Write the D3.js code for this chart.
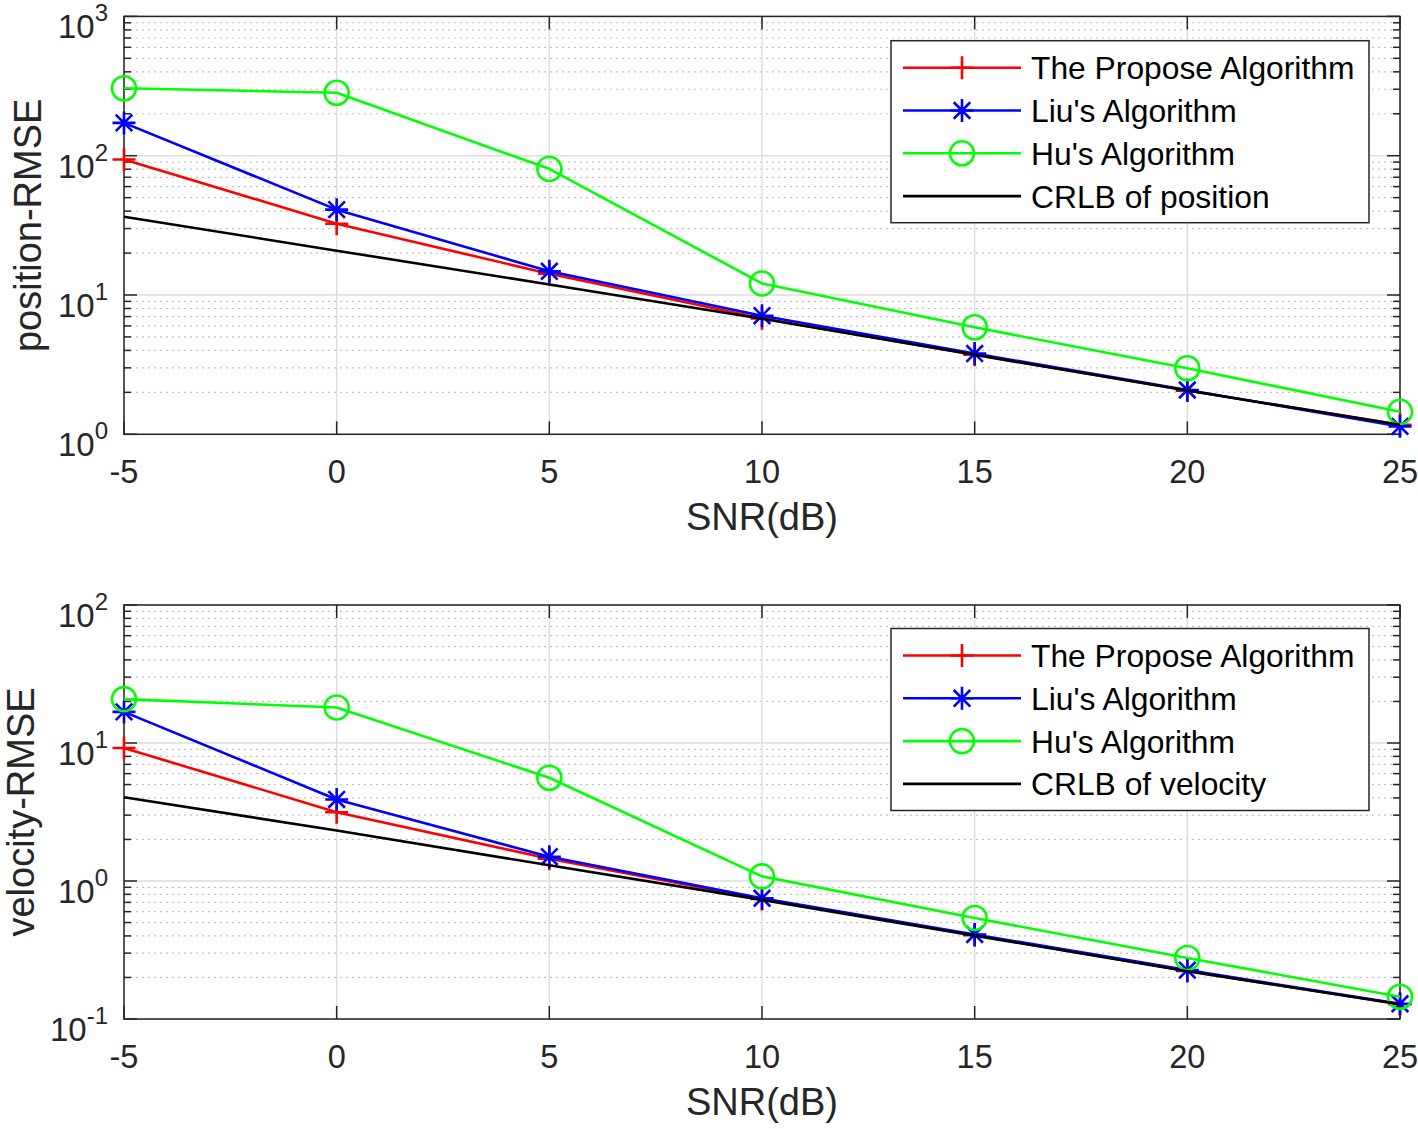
<!DOCTYPE html>
<html><head><meta charset="utf-8">
<script src="https://cdn.jsdelivr.net/npm/d3@7"></script>
<style>body{margin:0;background:#fff;} svg{display:block;font-family:"Liberation Sans",Arial,Helvetica,sans-serif;}</style>
</head><body>
<svg id="c" width="1418" height="1129"></svg>
<script>
const snr = [-5, 0, 5, 10, 15, 20, 25];
const xTicks = [-5, 0, 5, 10, 15, 20, 25];

const posPropose = [94, 32.5, 14.2, 6.8, 3.72, 2.06, 1.17];
const posLiu     = [172, 41, 14.8, 7.1, 3.8, 2.08, 1.14];
const posHu      = [305, 283, 80.5, 12.1, 5.87, 2.98, 1.45];
const posCRLB    = [36.5, 20.8, 11.9, 6.75, 3.72, 2.06, 1.17];

const velPropose = [9.2, 3.15, 1.45, 0.74, 0.405, 0.223, 0.128];
const velLiu     = [16.8, 3.9, 1.5, 0.75, 0.41, 0.226, 0.129];
const velHu      = [20.8, 18.1, 5.6, 1.08, 0.54, 0.277, 0.145];
const velCRLB    = [4.05, 2.32, 1.3, 0.73, 0.402, 0.222, 0.128];

const legendNames = ["The Propose Algorithm", "Liu's Algorithm", "Hu's Algorithm"];
const crlbNames = ["CRLB of position", "CRLB of velocity"];
const yLabels = ["position-RMSE", "velocity-RMSE"];
const xLabel = "SNR(dB)";

const svg = d3.select("#c");
const axisColor = "#262626";

function panel(cfg) {
  const {top, bottom, left, right, yDomain, series, ylabel, ylabelX, legendTop, crlbName} = cfg;
  const g = svg.append("g");
  const x = d3.scaleLinear().domain([-5, 25]).range([left, right]);
  const y = d3.scaleLog().domain(yDomain).range([bottom, top]);
  const e0 = Math.round(Math.log10(yDomain[0])), e1 = Math.round(Math.log10(yDomain[1]));
  const majors = d3.range(e0, e1 + 1).map(e => Math.pow(10, e));
  const minors = [];
  for (let e = e0; e < e1; e++) for (let k = 2; k <= 9; k++) minors.push(k * Math.pow(10, e));

  // minor grid
  g.selectAll(".mg").data(minors).enter().append("line")
    .attr("x1", left).attr("x2", right).attr("y1", d => y(d)).attr("y2", d => y(d))
    .attr("stroke", "#c4c4c4").attr("stroke-width", 1.2).attr("stroke-dasharray", "2,4");
  // major grid
  g.selectAll(".Mg").data(majors).enter().append("line")
    .attr("x1", left).attr("x2", right).attr("y1", d => y(d)).attr("y2", d => y(d))
    .attr("stroke", "#dedede").attr("stroke-width", 1.5);
  g.selectAll(".xg").data(xTicks).enter().append("line")
    .attr("x1", d => x(d)).attr("x2", d => x(d)).attr("y1", top).attr("y2", bottom)
    .attr("stroke", "#dedede").attr("stroke-width", 1.5);

  // ticks
  const tk = g.append("g").attr("stroke", axisColor).attr("stroke-width", 1.5);
  xTicks.forEach(d => {
    tk.append("line").attr("x1", x(d)).attr("x2", x(d)).attr("y1", bottom).attr("y2", bottom - 13);
    tk.append("line").attr("x1", x(d)).attr("x2", x(d)).attr("y1", top).attr("y2", top + 13);
  });
  majors.forEach(d => {
    tk.append("line").attr("x1", left).attr("x2", left + 13).attr("y1", y(d)).attr("y2", y(d));
    tk.append("line").attr("x1", right).attr("x2", right - 13).attr("y1", y(d)).attr("y2", y(d));
  });
  minors.forEach(d => {
    tk.append("line").attr("x1", left).attr("x2", left + 7).attr("y1", y(d)).attr("y2", y(d));
    tk.append("line").attr("x1", right).attr("x2", right - 7).attr("y1", y(d)).attr("y2", y(d));
  });
  // box
  g.append("rect").attr("x", left).attr("y", top).attr("width", right - left).attr("height", bottom - top)
    .attr("fill", "none").attr("stroke", axisColor).attr("stroke-width", 1.5);

  // tick labels
  g.selectAll(".xl").data(xTicks).enter().append("text")
    .attr("x", d => x(d)).attr("y", bottom + 49).attr("text-anchor", "middle")
    .attr("font-size", 32.5).attr("fill", axisColor).text(d => d);
  majors.forEach(d => {
    const e = Math.round(Math.log10(d));
    const t = g.append("text").attr("x", left - 16).attr("y", y(d) + 22)
      .attr("text-anchor", "end").attr("fill", axisColor).attr("font-size", 33);
    t.append("tspan").text("10");
    t.append("tspan").attr("font-size", 24).attr("dy", -17).text(e);
  });

  // axis labels
  g.append("text").attr("x", (left + right) / 2).attr("y", bottom + 96).attr("text-anchor", "middle")
    .attr("font-size", 38).attr("fill", axisColor).text(xLabel);
  g.append("text").attr("transform", `translate(${ylabelX},${(top + bottom) / 2}) rotate(-90)`)
    .attr("text-anchor", "middle").attr("font-size", 38).attr("fill", axisColor).text(ylabel);

  // series
  const line = d3.line().x((d, i) => x(snr[i])).y(d => y(d));
  series.forEach(s => {
    g.append("path").datum(s.values).attr("d", line).attr("fill", "none")
      .attr("stroke", s.color).attr("stroke-width", 2.6).attr("stroke-linejoin", "round");
    s.values.forEach((v, i) => drawMarker(g, s.marker, x(snr[i]), y(v), s.color));
  });

  // legend
  const lx = 891, lw = 478, lh = 182;
  const lg = g.append("g");
  lg.append("rect").attr("x", lx).attr("y", legendTop).attr("width", lw).attr("height", lh)
    .attr("fill", "#fff").attr("stroke", axisColor).attr("stroke-width", 1.5);
  const names = [...legendNames, crlbName];
  series.forEach((s, i) => {
    const ry = legendTop + 27 + i * 42.8;
    lg.append("line").attr("x1", 903).attr("x2", 1021).attr("y1", ry).attr("y2", ry)
      .attr("stroke", s.color).attr("stroke-width", 2.6);
    drawMarker(lg, s.marker, 962, ry, s.color);
    lg.append("text").attr("x", 1031).attr("y", ry + 11.5).attr("font-size", 31.8)
      .attr("fill", "#000").text(names[i]);
  });
}

function drawMarker(g, type, cx, cy, color) {
  const h = 11.5;
  if (type === "plus") {
    g.append("path").attr("d", `M${cx - h},${cy}H${cx + h}M${cx},${cy - h}V${cy + h}`)
      .attr("stroke", color).attr("stroke-width", 2.6).attr("fill", "none");
  } else if (type === "star") {
    const d = h * 0.72;
    g.append("path").attr("d", `M${cx - h},${cy}H${cx + h}M${cx},${cy - h}V${cy + h}M${cx - d},${cy - d}L${cx + d},${cy + d}M${cx - d},${cy + d}L${cx + d},${cy - d}`)
      .attr("stroke", color).attr("stroke-width", 2.6).attr("fill", "none");
  } else if (type === "circle") {
    g.append("circle").attr("cx", cx).attr("cy", cy).attr("r", 12)
      .attr("stroke", color).attr("stroke-width", 2.6).attr("fill", "none");
  }
}

panel({
  top: 16.4, bottom: 434.3, left: 124, right: 1400, yDomain: [1, 1000],
  series: [
    {values: posPropose, color: "#ff0000", marker: "plus"},
    {values: posLiu, color: "#0000ff", marker: "star"},
    {values: posHu, color: "#00ff00", marker: "circle"},
    {values: posCRLB, color: "#000000", marker: "none"}
  ],
  ylabel: yLabels[0], ylabelX: 41, legendTop: 40.7, crlbName: crlbNames[0]
});
panel({
  top: 605, bottom: 1019, left: 124, right: 1400, yDomain: [0.1, 100],
  series: [
    {values: velPropose, color: "#ff0000", marker: "plus"},
    {values: velLiu, color: "#0000ff", marker: "star"},
    {values: velHu, color: "#00ff00", marker: "circle"},
    {values: velCRLB, color: "#000000", marker: "none"}
  ],
  ylabel: yLabels[1], ylabelX: 34, legendTop: 628.5, crlbName: crlbNames[1]
});
</script>
</body></html>
